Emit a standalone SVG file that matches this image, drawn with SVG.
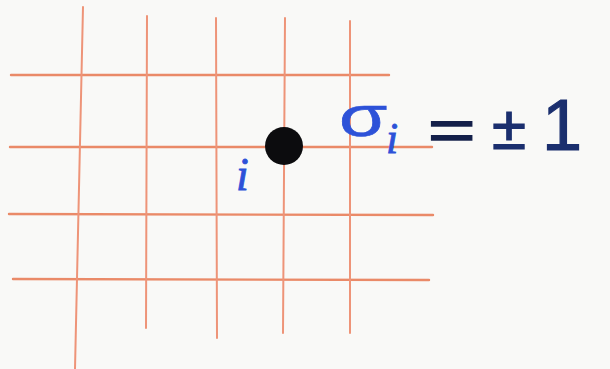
<svg xmlns="http://www.w3.org/2000/svg" width="610" height="369" viewBox="0 0 610 369">
<style>
.g{stroke:#ee9478;stroke-width:2;stroke-linecap:round;fill:none}
.h{stroke:#ea8a68;stroke-width:2.4}
.blue{fill:#2d52d8;stroke:#2d52d8;stroke-width:0.8;font-family:"Liberation Serif","Times New Roman",serif;font-style:italic}
.sig{fill:#2d52d8;stroke:#2d52d8;stroke-width:0.6;font-family:"Liberation Sans",Arial,sans-serif}
.navy{fill:#1b2f6e;stroke:#1b2f6e;stroke-width:1.2;font-family:"Liberation Sans",Arial,sans-serif}
</style>
<rect width="610" height="369" fill="#f9f9f7"/>
<g id="grid">
<path class="g h" d="M11 75 L389 75"/>
<path class="g h" d="M10 147 L432 147"/>
<path class="g h" d="M9 214 L433 215"/>
<path class="g h" d="M13 279 L429 280"/>
<path class="g" d="M83 7 L75 369"/>
<path class="g" d="M147 16 L146 328"/>
<path class="g" d="M216 18 L217 338"/>
<path class="g" d="M285 18 L283 333"/>
<path class="g" d="M350 21 L350 333"/>
</g>
<g id="site">
<ellipse cx="284" cy="146" rx="19" ry="19" fill="#0c0c0e"/>
<text class="blue" x="236" y="190" font-size="46">i</text>
</g>
<g id="equation">
<text class="sig" transform="translate(339 136) scale(1.35 1)" x="0" y="0" font-size="58">σ</text>
<text class="blue" x="386" y="153" font-size="44">i</text>
<text transform="translate(428 150) scale(1.4 1)" x="0" y="0" font-size="58" fill="#14204a" stroke="#14204a" stroke-width="1.5" font-family="Liberation Sans,Arial,sans-serif">=</text>
<text class="navy" x="492" y="149" font-size="62">±</text>
<text class="navy" x="542" y="150" font-size="72">1</text>
</g>
</svg>
